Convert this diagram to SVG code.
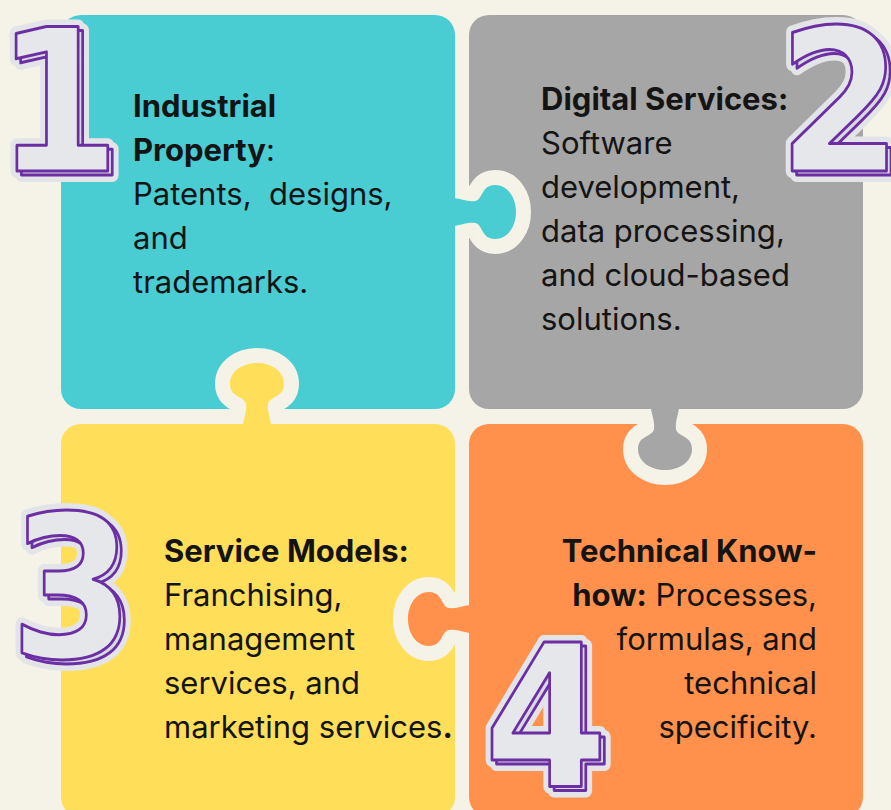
<svg xmlns="http://www.w3.org/2000/svg" xmlns:xlink="http://www.w3.org/1999/xlink" width="891" height="810" viewBox="0 0 891 810">
  <defs>
    <style>
      .bg { fill: #F5F3E7; }
      .teal { fill: #4ACCD3; }
      .gray { fill: #A6A6A6; }
      .yellow { fill: #FFDE59; }
      .orange { fill: #FF914D; }
      .rim { fill: none; stroke: #F5F3E7; stroke-width: 30; stroke-linejoin: round; }
      .txt { font-family: Inter, "Noto Sans", "Liberation Sans", sans-serif; font-size: 31px; fill: #141414; }
      .b { font-weight: 700; }
      .r { font-weight: 400; }
      .num { font-family: "DejaVu Sans", "Liberation Sans", sans-serif; font-weight: 700; font-size: 198px; text-anchor: middle; }
      .halo { fill: #E3E4E8; stroke: #E3E4E8; stroke-width: 14; stroke-linejoin: round; }
      .side { fill: #D9DADF; stroke: #6B2FA3; stroke-width: 3; stroke-linejoin: round; }
      .face { fill: #E6E7EA; stroke: #6B2FA3; stroke-width: 3; stroke-linejoin: round; }
    </style>
    <!-- puzzle tab: u runs across the tab, v points away from the owning tile edge (v=0) -->
    <path id="knob" d="M -15,-6 C -13,8 -10,12 -11,20 C -12,28 -27,26 -27,40 C -27,53 -14,61 0,61 C 14,61 27,53 27,40 C 27,26 12,28 11,20 C 10,12 13,8 15,-6 Z"/>
    <clipPath id="outside" clipPathUnits="userSpaceOnUse">
      <rect x="-100" y="0" width="200" height="120"/>
    </clipPath>
  </defs>

  <rect class="bg" x="0" y="0" width="891" height="810"/>

  <g id="tiles">
    <rect id="tile-industrial" class="teal" x="61" y="15" width="394" height="394" rx="20"/>
    <rect id="tile-digital" class="gray" x="469" y="15" width="394" height="394" rx="20"/>
    <rect id="tile-service" class="yellow" x="61" y="424" width="394" height="393" rx="20"/>
    <rect id="tile-technical" class="orange" x="469" y="424" width="394" height="393" rx="20"/>
  </g>

  <g id="connectors">
    <!-- teal tab into the gray tile -->
    <g id="tab-teal" transform="translate(455,212) rotate(-90)">
      <use xlink:href="#knob" class="rim" clip-path="url(#outside)"/>
      <use xlink:href="#knob" class="teal"/>
    </g>
    <!-- gray tab into the orange tile -->
    <g id="tab-gray" transform="translate(665,409)">
      <use xlink:href="#knob" class="rim" clip-path="url(#outside)"/>
      <use xlink:href="#knob" class="gray"/>
    </g>
    <!-- orange tab into the yellow tile -->
    <g id="tab-orange" transform="translate(469,619) rotate(90)">
      <use xlink:href="#knob" class="rim" clip-path="url(#outside)"/>
      <use xlink:href="#knob" class="orange"/>
    </g>
    <!-- yellow tab into the teal tile -->
    <g id="tab-yellow" transform="translate(257,424) rotate(180)">
      <use xlink:href="#knob" class="rim" clip-path="url(#outside)"/>
      <use xlink:href="#knob" class="yellow"/>
    </g>
  </g>

  <g id="node-industrial">
    <text class="txt" x="133" y="117"><tspan class="b">Industrial</tspan></text>
    <text class="txt" x="133" y="161"><tspan class="b">Property</tspan><tspan class="r">:</tspan></text>
    <text class="txt r" x="133" y="205" xml:space="preserve">Patents,  designs,</text>
    <text class="txt r" x="133" y="249">and</text>
    <text class="txt r" x="133" y="293">trademarks.</text>
  </g>

  <g id="node-digital">
    <text class="txt b" x="541" y="110">Digital Services:</text>
    <text class="txt r" x="541" y="154">Software</text>
    <text class="txt r" x="541" y="198">development,</text>
    <text class="txt r" x="541" y="242">data processing,</text>
    <text class="txt r" x="541" y="286">and cloud-based</text>
    <text class="txt r" x="541" y="330">solutions.</text>
  </g>

  <g id="node-service">
    <text class="txt b" x="164" y="562">Service Models:</text>
    <text class="txt r" x="164" y="606">Franchising,</text>
    <text class="txt r" x="164" y="650">management</text>
    <text class="txt r" x="164" y="694">services, and</text>
    <text class="txt" x="164" y="738"><tspan class="r">marketing services</tspan><tspan class="b">.</tspan></text>
  </g>

  <g id="node-technical">
    <text class="txt b" x="817" y="562" text-anchor="end">Technical Know-</text>
    <text class="txt" x="817" y="606" text-anchor="end"><tspan class="b">how:</tspan><tspan class="r"> Processes,</tspan></text>
    <text class="txt r" x="817" y="650" text-anchor="end">formulas, and</text>
    <text class="txt r" x="817" y="694" text-anchor="end">technical</text>
    <text class="txt r" x="817" y="738" text-anchor="end">specificity.</text>
  </g>

  <!-- big outlined numerals: halo, extruded side, front face (narrowed horizontally) -->
  <g id="numeral-1" transform="translate(58,171) scale(0.9,1)">
    <text class="num halo" x="5" y="4">1</text>
    <text class="num halo" x="0" y="0">1</text>
    <text class="num side" x="5" y="4">1</text>
    <text class="num face" x="0" y="0">1</text>
  </g>
  <g id="numeral-2" transform="translate(840,171) scale(0.9,1)">
    <text class="num halo" x="5" y="4">2</text>
    <text class="num halo" x="0" y="0">2</text>
    <text class="num side" x="5" y="4">2</text>
    <text class="num face" x="0" y="0">2</text>
  </g>
  <g id="numeral-3" transform="translate(72,657) scale(0.9,1)">
    <text class="num halo" x="5" y="4">3</text>
    <text class="num halo" x="0" y="0">3</text>
    <text class="num side" x="5" y="4">3</text>
    <text class="num face" x="0" y="0">3</text>
  </g>
  <g id="numeral-4" transform="translate(546,786) scale(0.9,1)">
    <text class="num halo" x="5" y="4">4</text>
    <text class="num halo" x="0" y="0">4</text>
    <text class="num side" x="5" y="4">4</text>
    <text class="num face" x="0" y="0">4</text>
  </g>
</svg>
